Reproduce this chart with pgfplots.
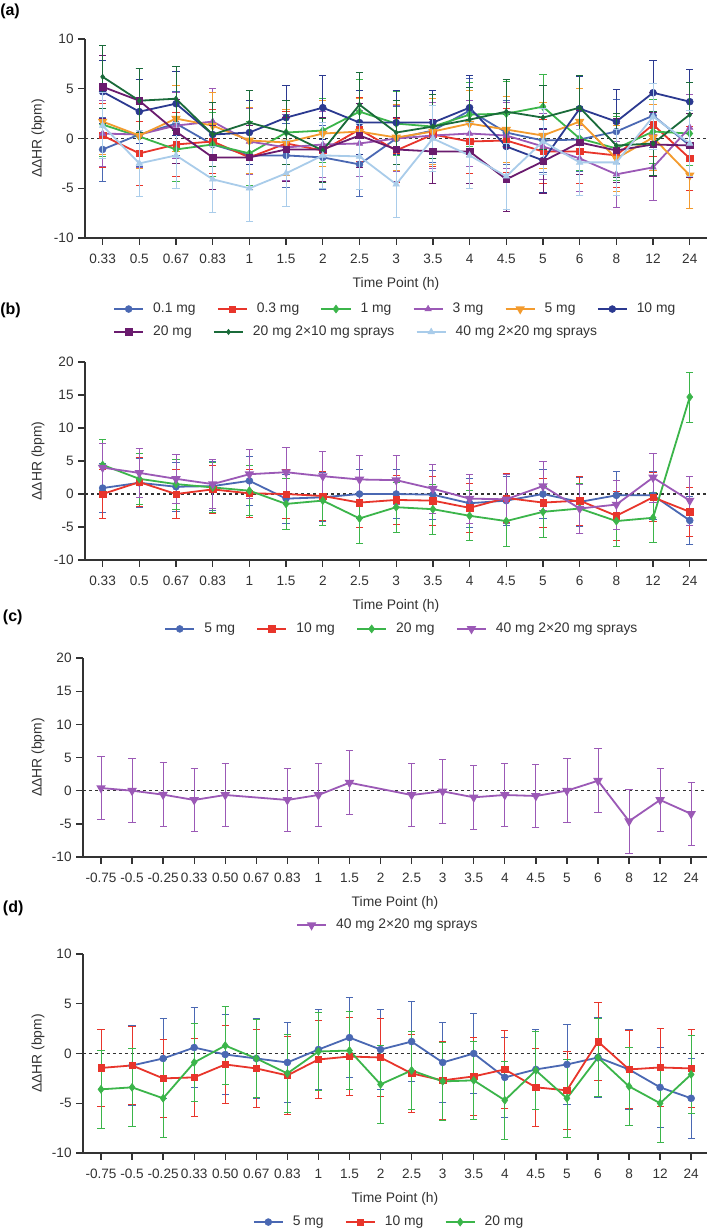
\documentclass[border=0pt]{standalone}
\usepackage{fontspec}
\setmainfont{Liberation Sans}
\usepackage{pgfplots}
\usepackage{pgfplotstable}
\pgfplotsset{compat=1.18}

\definecolor{cBlue}{HTML}{4A68B3}
\definecolor{cRed}{HTML}{E8352B}
\definecolor{cGreen}{HTML}{3BB54A}
\definecolor{cPurple}{HTML}{9B59B6}
\definecolor{cOrange}{HTML}{F39B2E}
\definecolor{cNavy}{HTML}{2B3990}
\definecolor{cPlum}{HTML}{6A1B6E}
\definecolor{cDkGreen}{HTML}{1A6B3A}
\definecolor{cLtBlue}{HTML}{A9CCEA}
\definecolor{axisgray}{HTML}{333333}

\newcommand\tl{\fontsize{10.2}{12}\selectfont}
\newcommand\lf{\fontsize{10.4}{12}\selectfont}

% panel (a): 9 doses, time index 0..16
\pgfplotstableread{
x  a01   a03   a1    a3    a5    a10   a20   a20s  a40s
0  -1.1   0.3   1.4   0.5   1.7   4.7   5.2   6.2   1.3
1   0.4  -1.5   0.2   0.4   0.3   2.7   3.8   3.8  -2.5
2   1.5  -0.6  -1.1   1.3   2.0   3.5   0.7   4.0  -1.7
3  -0.6  -0.3  -0.6   1.7   1.3   0.4  -1.9   0.4  -4.1
4  -1.7  -1.9  -1.5  -0.3  -0.2   0.6  -1.9   1.6  -5.0
5  -1.7  -0.5   0.6  -0.9  -0.4   2.1  -1.1   0.6  -3.5
6  -1.9  -1.2   0.8  -0.6   0.5   3.1  -1.1  -1.2  -1.7
7  -2.6   0.9   2.7  -0.5   0.7   1.6   0.3   3.4  -1.8
8   0.0  -1.2   1.5   0.0   0.1   1.6  -1.1   0.6  -4.6
9   0.8   0.4   1.2   0.3   0.7   1.6  -1.3   1.2   0.0
10  2.8  -0.3   2.4   0.5   1.5   3.1  -1.3   1.9  -1.7
11  0.6  -0.2   2.5   0.3   0.9  -0.8  -4.1   2.7  -3.8
12 -0.2  -1.3   3.2  -0.8   0.3  -2.2  -2.3   2.1  -0.3
13 -0.1  -1.3   0.0  -2.0   1.7   3.0  -0.4   3.1  -2.4
14  0.7  -1.7  -1.0  -3.6  -2.0   1.7  -1.2  -0.7  -2.4
15  2.3   1.4   0.7  -2.9   0.1   4.6  -0.6  -0.5   2.2
16 -0.7  -2.0   0.5   1.1  -3.7   3.7  -0.7   2.4  -0.5
}\tabA

% panel (b)
\pgfplotstableread{
x  b5    b10   b20   b40
0   0.9   0.0   4.4   4.0
1   1.7   1.8   2.3   3.2
2   1.1   0.0   1.5   2.3
3   1.2   0.7   1.0   1.5
4   2.0   0.1   0.5   3.0
5  -0.7   0.0  -1.5   3.3
6  -0.5  -0.3  -1.0   2.7
7   0.0  -1.3  -3.7   2.2
8   0.0  -0.9  -2.0   2.1
9  -0.1  -1.0  -2.3   0.8
10 -1.4  -2.1  -3.3  -0.7
11 -1.0  -0.6  -4.1  -0.8
12  0.0  -1.3  -2.7   1.2
13 -1.2  -1.0  -2.2  -2.2
14 -0.2  -3.3  -4.1  -1.6
15 -0.2  -0.5  -3.6   2.5
16 -4.0  -2.7  14.7  -1.0
}\tabB

% panel (c): time index 0..19
\pgfplotstableread{
x  c40
0   0.4
1   0.0
2  -0.6
3  -1.4
4  -0.65
6  -1.4
7  -0.65
8   1.2
10 -0.65
11 -0.1
12 -1.0
13 -0.65
14 -0.8
15  0.0
16  1.5
17 -4.6
18 -1.4
19 -3.5
}\tabC

% panel (d)
\pgfplotstableread{
x  d5    d10   d20
0   nan  -1.45 -3.6
1  -1.2  -1.2  -3.4
2  -0.5  -2.5  -4.5
3   0.6  -2.4  -0.9
4  -0.1  -1.1   0.8
5  -0.5  -1.5  -0.5
6  -0.9  -2.2  -2.0
7   0.4  -0.6   0.2
8   1.6  -0.3   0.3
9   0.4  -0.4  -3.1
10  1.2  -2.0  -1.7
11 -0.9  -2.7  -2.8
12  0.0  -2.3  -2.7
13 -2.4  -1.6  -4.7
14 -1.6  -3.4  -1.7
15 -1.1  -3.7  -4.5
16 -0.4   1.2  -0.4
17 -1.6  -1.6  -3.3
18 -3.4  -1.4  -5.0
19 -4.5  -1.5  -2.1
}\tabD

\pgfplotsset{
  hrax/.style={
    scale only axis, anchor=south west, clip=false,
    axis lines=left,
    axis line style={-, line width=1.1pt, draw=axisgray},
    tick align=outside, major tick length=5pt,
    tick style={line width=1pt, draw=axisgray},
    tick label style={font=\tl, text=axisgray},
    xticklabel style={yshift=-3.5pt},
    xlabel={Time Point (h)}, ylabel={ΔΔHR (bpm)},
    label style={font=\lf, text=axisgray},
    legend style={draw=none, fill=none, inner sep=0pt, font=\lf, text=axisgray,
      legend columns=-1,
      /tikz/every odd column/.append style={column sep=4.8pt},
      /tikz/every even column/.append style={column sep=14pt}},
    legend image code/.code={\draw[mark repeat=2,mark phase=2]
      plot coordinates {(0pt,0pt) (10.9pt,0pt) (21.8pt,0pt)};},
  },
  axA/.style={hrax, width=466.5pt, xmin=-0.48, xmax=16.47,
    xtick={0,...,16},
    xticklabels={0.33,0.5,0.67,0.83,1,1.5,2,2.5,3,3.5,4,4.5,5,6,8,12,24},
    xlabel style={at={(axis description cs:0.5,-0.232)}, anchor=center},
    ylabel style={at={(axis description cs:-0.0756,0.5)}, anchor=center}},
  axC/.style={hrax, width=468pt, xmin=-0.58, xmax=19.51,
    xtick={0,...,19},
    xticklabels={-0.75,-0.5,-0.25,0.33,0.50,0.67,0.83,1,1.5,2,2.5,3,3.5,4,4.5,5,6,8,12,24},
    xlabel style={at={(axis description cs:0.5,-0.232)}, anchor=center},
    ylabel style={at={(axis description cs:-0.072,0.5)}, anchor=center}},
  ser/.style n args={3}{color=#1, line width=1.35pt, mark=#2, mark size=#3,
    mark options={solid, fill=#1, line width=0.4pt}},
  eb/.style={error bars/.cd, y dir=both, y fixed=#1,
    error bar style={line width=0.6pt},
    error mark options={rotate=90, mark size=2.7pt, line width=0.6pt}},
  zero/.style={forget plot, axisgray, line width=0.8pt, dash pattern=on 2.5pt off 2pt},
}

\begin{document}
\begin{tikzpicture}
\fill[white] (0,0) rectangle (531.75pt,-921.75pt);
\path[use as bounding box] (0,0) rectangle (531.75pt,-921.75pt);

% ---------- (a) ----------
\begin{axis}[axA, at={(63.75pt,-178.5pt)}, height=149.25pt,
  ymin=-10, ymax=10, ytick={-10,-5,0,5,10}, yticklabels={-10,-5,0,5,10},
  legend style={at={(axis description cs:0.045,-0.357)}, anchor=west}]
\addplot[zero] coordinates {(-0.48,0) (16.47,0)};
\addplot[ser={cBlue}{*}{2.6pt}, eb=3.2] table[x=x,y=a01] {\tabA};
\addlegendentry{0.1 mg}
\addplot[ser={cRed}{square*}{2.4pt}, eb=3.2] table[x=x,y=a03] {\tabA};
\addlegendentry{0.3 mg}
\addplot[ser={cGreen}{diamond*}{3pt}, eb=3.2] table[x=x,y=a1] {\tabA};
\addlegendentry{1 mg}
\addplot[ser={cPurple}{triangle*}{2.8pt}, eb=3.3] table[x=x,y=a3] {\tabA};
\addlegendentry{3 mg}
\addplot[ser={cOrange}{triangle*}{2.8pt}, mark options={rotate=180}, eb=3.3] table[x=x,y=a5] {\tabA};
\addlegendentry{5 mg}
\addplot[ser={cNavy}{*}{2.6pt}, eb=3.2] table[x=x,y=a10] {\tabA};
\addlegendentry{10 mg}
\end{axis}
\begin{axis}[axA, hide axis, at={(63.75pt,-178.5pt)}, height=149.25pt,
  ymin=-10, ymax=10,
  legend style={at={(axis description cs:0.045,-0.472)}, anchor=west}]
\addplot[ser={cPlum}{square*}{2.4pt}, eb=3.2] table[x=x,y=a20] {\tabA};
\addlegendentry{20 mg}
\addplot[ser={cDkGreen}{diamond*}{2pt}, eb=3.2] table[x=x,y=a20s] {\tabA};
\addlegendentry{20 mg 2×10 mg sprays}
\addplot[ser={cLtBlue}{triangle*}{2.8pt}, eb=3.3] table[x=x,y=a40s] {\tabA};
\addlegendentry{40 mg 2×20 mg sprays}
\end{axis}

% ---------- (b) ----------
\begin{axis}[axA, at={(63.75pt,-420pt)}, height=148.5pt,
  ymin=-10, ymax=20, ytick={-10,-5,0,5,10,15,20}, yticklabels={-10,-5,0,5,10,15,20},
  legend style={at={(axis description cs:0.51,-0.348)}, anchor=center}]
\addplot[zero] coordinates {(-0.48,0) (16.47,0)};
\addplot[ser={cBlue}{*}{2.6pt}, eb=3.7] table[x=x,y=b5] {\tabB};
\addlegendentry{5 mg}
\addplot[ser={cRed}{square*}{2.4pt}, eb=3.7] table[x=x,y=b10] {\tabB};
\addlegendentry{10 mg}
\addplot[ser={cGreen}{diamond*}{3pt}, eb=3.8] table[x=x,y=b20] {\tabB};
\addlegendentry{20 mg}
\addplot[ser={cPurple}{triangle*}{2.8pt}, mark options={rotate=180}, eb=3.7] table[x=x,y=b40] {\tabB};
\addlegendentry{40 mg 2×20 mg sprays}
\end{axis}

% ---------- (c) ----------
\begin{axis}[axC, at={(62.25pt,-642.75pt)}, height=149.25pt,
  ymin=-10, ymax=20, ytick={-10,-5,0,5,10,15,20}, yticklabels={-10,-5,0,5,10,15,20},
  legend style={at={(axis description cs:0.489,-0.342)}, anchor=center}]
\addplot[zero] coordinates {(-0.58,0) (19.51,0)};
\addplot[ser={cPurple}{triangle*}{2.8pt}, mark options={rotate=180}, eb=4.8] table[x=x,y=c40] {\tabC};
\addlegendentry{40 mg 2×20 mg sprays}
\end{axis}

% ---------- (d) ----------
\begin{axis}[axC, at={(62.25pt,-864.75pt)}, height=149.25pt,
  ymin=-10, ymax=10, ytick={-10,-5,0,5,10}, yticklabels={-10,-5,0,5,10},
  legend style={at={(axis description cs:0.491,-0.347)}, anchor=center}]
\addplot[zero] coordinates {(-0.58,0) (19.51,0)};
\addplot[ser={cBlue}{*}{2.6pt}, eb=4.0] table[x=x,y=d5] {\tabD};
\addlegendentry{5 mg}
\addplot[ser={cRed}{square*}{2.4pt}, eb=3.9] table[x=x,y=d10] {\tabD};
\addlegendentry{10 mg}
\addplot[ser={cGreen}{diamond*}{3pt}, eb=3.9] table[x=x,y=d20] {\tabD};
\addlegendentry{20 mg}
\end{axis}

\node[anchor=west, font=\bfseries\fontsize{12}{14}\selectfont, inner sep=0pt] at (0pt,-8.6pt) {(a)};
\node[anchor=west, font=\bfseries\fontsize{12}{14}\selectfont, inner sep=0pt] at (0pt,-232.5pt) {(b)};
\node[anchor=west, font=\bfseries\fontsize{12}{14}\selectfont, inner sep=0pt] at (2pt,-462.75pt) {(c)};
\node[anchor=west, font=\bfseries\fontsize{12}{14}\selectfont, inner sep=0pt] at (2pt,-681pt) {(d)};
\end{tikzpicture}
\end{document}
